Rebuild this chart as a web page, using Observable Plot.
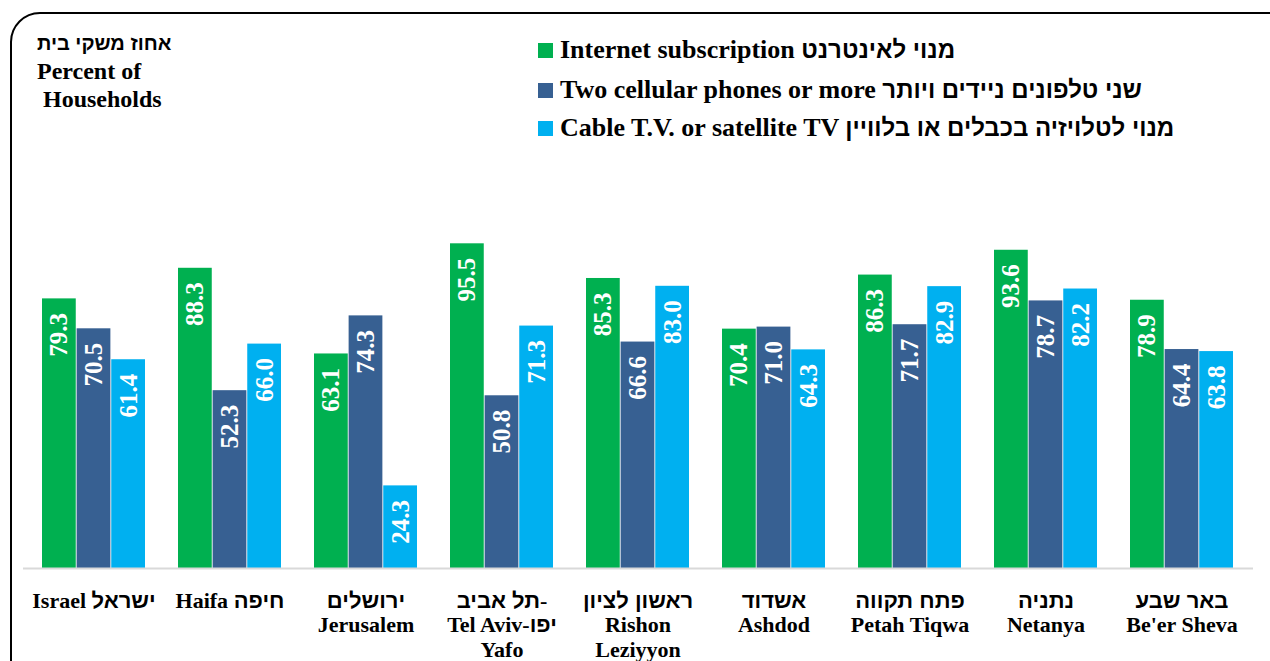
<!DOCTYPE html>
<html>
<head>
<meta charset="utf-8">
<script src="https://cdn.jsdelivr.net/npm/d3@7"></script>
<script src="https://cdn.jsdelivr.net/npm/@observablehq/plot@0.6"></script>
<style>
  html, body { margin: 0; padding: 0; background: #fff; overflow: hidden; }
  #wrap { position: relative; width: 1270px; height: 661px; overflow: hidden; font-family: "Liberation Serif", "Times New Roman", serif; font-weight: bold; color: #000; }
  #border { position: absolute; left: 10px; top: 12px; width: 1290px; height: 700px; border: 2px solid #000; border-radius: 30px; box-sizing: border-box; }
  #chart { position: absolute; left: 0; top: 0; }
  #ytitle { position: absolute; left: 37px; top: 28px; font-size: 24px; line-height: 28px; white-space: pre; }
  #ytitle .he { font-size: 20px; }
  .leg { position: absolute; left: 538px; display: flex; align-items: center; font-size: 26px; line-height: 26px; white-space: nowrap; }
  .leg .he { font-size: 24px; }
  .leg .sw { width: 15px; height: 15px; margin-right: 7px; margin-top: 1px; flex: none; }
  .he { font-family: "Liberation Sans", "DejaVu Sans", sans-serif; font-weight: bold; }
</style>
</head>
<body>
<div id="wrap">
  <div id="border"></div>
  <div id="chart"></div>
  <div id="ytitle"></div>
  <div id="legend"></div>
</div>
<script>
const cities = ["Israel", "Haifa", "Jerusalem", "Tel Aviv-Yafo", "Rishon Leziyyon", "Ashdod", "Petah Tiqwa", "Netanya", "Be'er Sheva"];
const tickLabels = [
  "Israel ישראל",
  "Haifa חיפה",
  "ירושלים\nJerusalem",
  "תל אביב-\nTel Aviv-יפו\nYafo",
  "ראשון לציון\nRishon\nLeziyyon",
  "אשדוד\nAshdod",
  "פתח תקווה\nPetah Tiqwa",
  "נתניה\nNetanya",
  "באר שבע\nBe'er Sheva"
];
const internet = [79.3, 88.3, 63.1, 95.5, 85.3, 70.4, 86.3, 93.6, 78.9];
const cellular = [70.5, 52.3, 74.3, 50.8, 66.6, 71.0, 71.7, 78.7, 64.4];
const cable    = [61.4, 66.0, 24.3, 71.3, 83.0, 64.3, 82.9, 82.2, 63.8];
const seriesNames = [
  "Internet subscription מנוי לאינטרנט",
  "Two cellular phones or more שני טלפונים ניידים ויותר",
  "Cable T.V. or satellite TV מנוי לטלויזיה בכבלים או בלוויין"
];
const colors = ["#00B050", "#376092", "#00B0F0"];
const yTitle = "אחוז משקי בית\nPercent of\n Households";

const W = 1270, H = 661, mL = 23, mR = 17;
const paddingInner = 0.24, paddingOuter = 0.12;
const step = (W - mL - mR) / cities.length;
const bw = step * (1 - paddingInner);
const third = bw / 3;
const serif = "Liberation Serif, Times New Roman, serif";

const seriesValues = [internet, cellular, cable];
const rowsFor = (vals) => cities.map((c, i) => ({city: c, value: vals[i]}));
const labelRows = cities.map((c, i) => ({city: c, label: tickLabels[i]}));

const marks = [];
seriesValues.forEach((vals, s) => {
  marks.push(Plot.barY(rowsFor(vals), {
    x: "city", y: "value", fill: colors[s],
    insetLeft: s * third, insetRight: (2 - s) * third
  }));
});
seriesValues.forEach((vals, s) => {
  marks.push(Plot.text(rowsFor(vals), {
    x: "city", y: "value", text: d => d.value.toFixed(1),
    rotate: -90, textAnchor: "end", lineAnchor: "middle",
    dx: (s - 1) * third, dy: 14,
    fill: "white", fontSize: 25, fontWeight: "bold", fontFamily: serif
  }));
});
marks.push(Plot.ruleY([0], {stroke: "#d9d9d9", strokeWidth: 2}));
marks.push(Plot.text(labelRows, {
  x: "city", text: "label", frameAnchor: "bottom", lineAnchor: "top",
  dy: 22, lineHeight: 1.11, fill: "black", fontSize: 22, fontWeight: "bold",
  fontFamily: serif
}));

const chart = Plot.plot({
  width: W, height: H,
  marginLeft: mL, marginRight: mR, marginTop: 228, marginBottom: 93,
  x: {domain: cities, paddingInner, paddingOuter, axis: null},
  y: {domain: [0, 100], axis: null},
  style: {background: "transparent", overflow: "visible"},
  marks
});
document.getElementById("chart").appendChild(chart);

// Hebrew runs get a font with bold Hebrew glyphs
const heRe = /[\u0590-\u05FF](?:[\u0590-\u05FF ]*[\u0590-\u05FF])?/g;
function runs(s) {
  const out = []; let last = 0; let m;
  heRe.lastIndex = 0;
  while ((m = heRe.exec(s))) {
    if (m.index > last) out.push({t: s.slice(last, m.index), he: false});
    out.push({t: m[0], he: true});
    last = m.index + m[0].length;
  }
  if (last < s.length) out.push({t: s.slice(last), he: false});
  return out;
}
const SVGNS = "http://www.w3.org/2000/svg";
function fixSvgNode(node) {
  const s = node.textContent;
  if (!/[\u0590-\u05FF]/.test(s)) return;
  node.textContent = "";
  for (const r of runs(s)) {
    const t = document.createElementNS(SVGNS, "tspan");
    t.textContent = r.t;
    if (r.he) t.setAttribute("font-family", "Liberation Sans, DejaVu Sans, sans-serif");
    node.appendChild(t);
  }
}
chart.querySelectorAll("text").forEach(txt => {
  const spans = txt.querySelectorAll(":scope > tspan");
  if (spans.length) spans.forEach(fixSvgNode); else fixSvgNode(txt);
});
function fillHtml(el, s) {
  for (const r of runs(s)) {
    if (r.he) { const sp = document.createElement("span"); sp.className = "he"; sp.textContent = r.t; el.appendChild(sp); }
    else el.appendChild(document.createTextNode(r.t));
  }
}

fillHtml(document.getElementById("ytitle"), yTitle);
const legTops = [37, 77, 115];
const legend = document.getElementById("legend");
seriesNames.forEach((name, i) => {
  const row = document.createElement("div");
  row.className = "leg";
  row.style.top = legTops[i] + "px";
  const sw = document.createElement("div");
  sw.className = "sw";
  sw.style.background = colors[i];
  const t = document.createElement("span");
  fillHtml(t, name);
  row.appendChild(sw);
  row.appendChild(t);
  legend.appendChild(row);
});
</script>
</body>
</html>
